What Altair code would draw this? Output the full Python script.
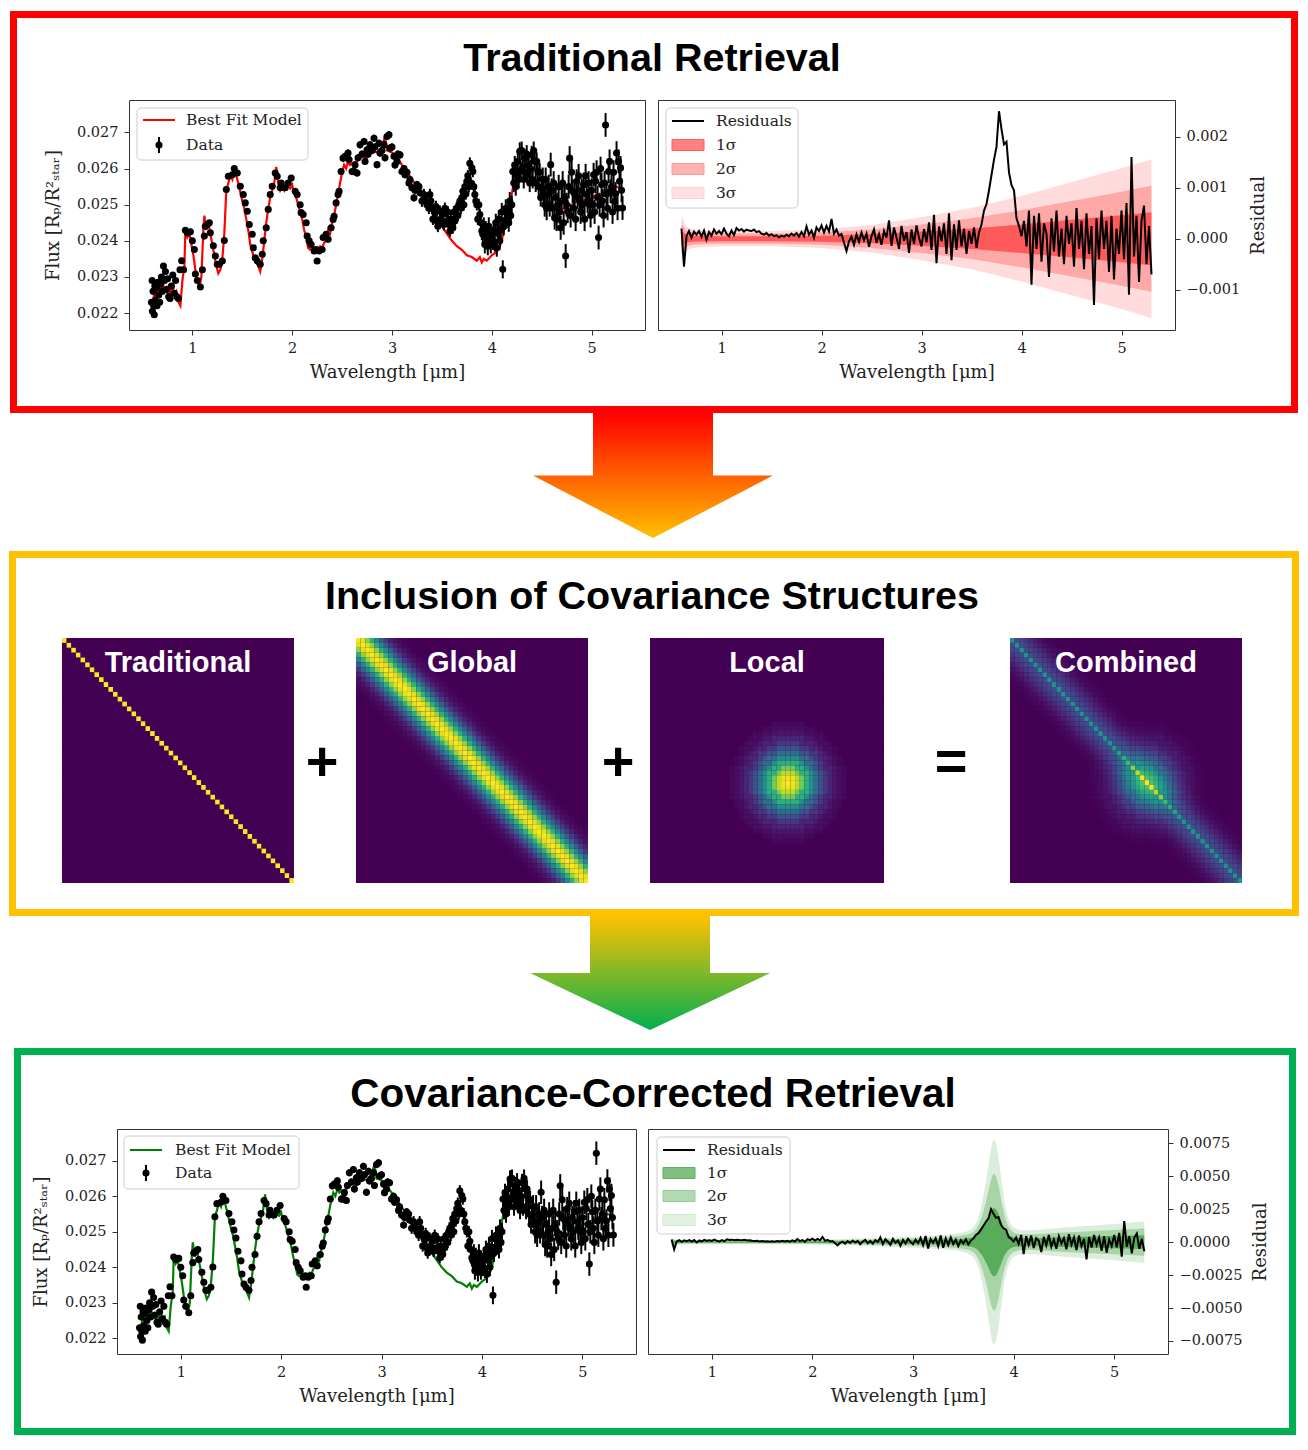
import altair as alt
import pandas as pd

# ---------------- spectrum data (flux in units of 1e-3) ----------------
spec_wl = [
    0.590, 0.597, 0.600, 0.606, 0.612, 0.618, 0.624, 0.630, 0.638, 0.646, 0.654, 0.663, 0.672, 0.681, 0.690, 0.700,
    0.710, 0.720, 0.730, 0.741, 0.752, 0.763, 0.776, 0.790, 0.804, 0.818, 0.832, 0.846, 0.860, 0.876, 0.893, 0.912,
    0.93, 0.95, 0.98, 1.00, 1.02, 1.03, 1.05, 1.08, 1.10, 1.12, 1.13, 1.15, 1.17, 1.18, 1.21, 1.23, 1.25, 1.27, 1.30, 1.32,
    1.34, 1.36, 1.40, 1.42, 1.45, 1.48, 1.51, 1.53, 1.55, 1.57, 1.60, 1.61, 1.63, 1.65, 1.68, 1.70, 1.71, 1.74, 1.76, 1.78,
    1.80, 1.83, 1.85, 1.88, 1.89, 1.93, 1.96, 1.99, 2.03, 2.05, 2.08, 2.09, 2.11, 2.14, 2.15, 2.17, 2.19, 2.22, 2.24, 2.25,
    2.27, 2.30, 2.31, 2.34, 2.36, 2.39, 2.41, 2.42, 2.44, 2.46, 2.47, 2.49, 2.51, 2.53, 2.56, 2.57, 2.60,
    2.62, 2.65, 2.68, 2.72, 2.75, 2.78, 2.82, 2.85, 2.87, 2.88, 2.92, 2.95, 2.97, 2.98, 3.02, 3.05, 3.08, 3.10, 3.13, 3.17,
    3.20, 3.22, 3.25, 3.28, 3.32, 3.35, 3.38, 3.40, 3.43, 3.45, 3.48, 3.51, 3.55, 3.58, 3.61, 3.65, 3.68, 3.71, 3.75, 3.78,
    3.80, 3.81, 3.83, 3.85, 3.88, 3.90, 3.91, 3.95, 3.98, 4.01, 4.05, 4.08, 4.11, 4.13, 4.16, 4.20, 4.21, 4.25, 4.28, 4.31,
    4.33, 4.36, 4.40, 4.43, 4.46, 4.50, 4.53, 4.56, 4.59, 4.63, 4.66, 4.69, 4.74, 4.76, 4.78, 4.81, 4.85, 4.88, 4.92, 4.95,
    4.98, 5.02, 5.04, 5.07, 5.10, 5.14, 5.17, 5.19, 5.23, 5.25, 5.28, 5.29, 5.31,
    2.63, 2.66, 2.70, 2.73, 2.76, 2.80, 2.83, 2.90, 2.93, 3.00, 3.03, 3.06, 3.12, 3.15, 3.18, 3.23, 3.27, 3.30, 3.33, 3.37,
    3.39, 3.41, 3.44, 3.46, 3.49, 3.52, 3.53, 3.56, 3.57, 3.59, 3.62, 3.63, 3.66, 3.67, 3.69, 3.70, 3.72, 3.73, 3.74, 3.76,
    3.77, 3.79, 3.82, 3.84, 3.86, 3.87, 3.89, 3.92, 3.93, 3.94, 3.96, 3.97, 3.99, 4.02, 4.03, 4.04, 4.06, 4.07, 4.09, 4.10,
    4.12, 4.14, 4.15, 4.17, 4.18, 4.19, 4.22, 4.23, 4.24, 4.26, 4.27, 4.29, 4.30, 4.32, 4.34, 4.35, 4.37, 4.38, 4.39, 4.41,
    4.42, 4.44, 4.45, 4.47, 4.48, 4.49, 4.51, 4.52, 4.54, 4.55, 4.57, 4.58, 4.60, 4.61, 4.62, 4.64, 4.65, 4.67, 4.68, 4.70,
    4.71, 4.72, 4.73, 4.75, 4.77, 4.79, 4.80, 4.82, 4.83, 4.84, 4.86, 4.87, 4.89, 4.90, 4.91, 4.93, 4.94, 4.96, 4.97, 4.99,
    5.00, 5.01, 5.03, 5.05, 5.06, 5.08, 5.09, 5.11, 5.12, 5.13, 5.15, 5.16, 5.18, 5.20, 5.21, 5.22, 5.24, 5.26, 5.27, 5.30,
]
spec_flux = [
    22.30, 22.90, 22.05, 22.60, 22.20, 21.95, 22.75, 22.35, 22.70, 22.20, 22.85, 22.50, 22.30, 22.80, 23.00, 22.60,
    23.30, 22.90, 23.15, 22.65, 22.95, 22.45, 22.40, 22.75, 23.05, 22.55, 22.90, 22.45, 22.40, 23.20, 23.45, 23.20,
    24.29, 24.22, 24.25, 24.00, 23.76, 23.08, 22.90, 22.72, 23.20, 24.13, 24.40, 24.45, 24.50, 24.22, 23.86, 23.58, 23.35, 23.35, 23.44, 24.01,
    25.42, 25.79, 25.83, 26.00, 25.88, 25.51, 25.28, 25.05, 24.82, 24.45, 24.18, 23.81, 23.53, 23.44, 23.35, 23.63, 24.00, 24.36, 24.87, 25.28,
    25.51, 25.88, 25.79, 25.47, 25.60, 25.47, 25.60, 25.74, 25.37, 25.28, 25.00, 24.78, 24.73, 24.50, 24.13, 24.00, 23.90, 23.72, 23.76, 23.44,
    23.72, 23.76, 24.09, 24.18, 24.04, 24.36, 24.59, 24.68, 25.05, 25.28, 25.37, 25.92, 26.29, 26.34, 26.43, 26.25, 25.92,
    25.92, 25.88, 26.66, 26.75, 26.52, 26.66, 26.84, 26.11, 26.70, 26.43, 26.66, 26.89, 26.94, 26.57, 26.34, 26.20, 26.38, 25.92, 25.83, 25.60,
    25.47, 25.19, 25.56, 25.33, 25.28, 25.00, 25.28, 24.91, 24.78, 24.55, 24.82, 24.73, 24.55, 24.27, 24.36, 24.91, 25.10, 25.37, 25.65, 26.15,
    26.02, 25.92, 25.28, 25.00, 24.73, 24.27, 24.18, 24.04, 24.18, 24.00, 23.81, 24.00, 23.21, 24.55, 24.82, 25.00, 25.92, 25.83, 26.48, 26.06,
    26.29, 25.83, 26.38, 26.20, 25.92, 25.47, 25.00, 25.28, 26.11, 24.64, 25.00, 24.36, 23.58, 24.82, 26.29, 25.37, 25.65, 25.10, 25.56, 25.28,
    25.00, 25.83, 25.65, 24.09, 25.56, 27.21, 25.92, 25.37, 25.10, 26.43, 25.65, 26.02, 24.91,
    26.10, 26.30, 26.40, 26.20, 26.40, 26.50, 26.60, 26.50, 26.30, 26.60, 26.10, 26.40, 26.00, 25.90, 25.70, 25.40, 25.50, 25.10, 25.20, 24.90,
    25.10, 24.60, 24.95, 24.40, 24.60, 24.45, 24.90, 24.80, 24.45, 24.60, 24.80, 24.55, 24.70, 25.00, 24.90, 25.20, 25.00, 25.50, 25.30, 25.80,
    25.50, 25.60, 25.50, 25.10, 24.60, 25.00, 24.50, 24.40, 23.90, 24.30, 23.85, 24.40, 23.90, 24.30, 23.95, 24.50, 24.20, 24.60, 24.30, 24.80,
    24.40, 24.90, 24.60, 24.50, 25.10, 24.70, 25.60, 26.10, 25.50, 26.20, 25.70, 25.95, 26.50, 25.70, 25.90, 26.40, 26.10, 25.60, 26.00, 25.70,
    26.50, 25.60, 26.20, 25.50, 25.90, 25.20, 25.70, 25.30, 25.70, 24.90, 25.50, 25.00, 25.40, 24.90, 25.60, 25.20, 24.60, 25.50, 24.80, 25.10,
    25.60, 24.50, 25.20, 25.00, 25.50, 24.70, 25.90, 24.90, 25.30, 24.60, 25.20, 25.80, 24.80, 25.40, 25.00, 24.60, 25.80, 25.10, 25.60, 24.70,
    25.40, 25.00, 24.80, 25.90, 25.20, 25.00, 26.00, 25.10, 24.70, 25.60, 25.30, 24.90, 26.20, 25.50, 24.80, 25.90, 25.30, 24.90, 26.20, 25.40,
]
# error-bar half sizes (1e-3) by wavelength region (upper edges)
err_edges = [2.5, 3.3, 3.9, 4.5, 9.9]
err_vals = [0.05, 0.10, 0.16, 0.25, 0.33]

model_wl = [
    0.60, 0.62, 0.64, 0.66, 0.68, 0.70, 0.72, 0.74, 0.76, 0.78, 0.80, 0.82, 0.84, 0.86, 0.88, 0.90, 0.92, 0.93, 0.95, 0.97,
    0.99, 1.01, 1.03, 1.05, 1.07, 1.09, 1.11, 1.12, 1.14, 1.16, 1.18, 1.20, 1.22, 1.24, 1.26, 1.28, 1.30, 1.32, 1.34, 1.36,
    1.38, 1.40, 1.42, 1.44, 1.46, 1.48, 1.50, 1.52, 1.54, 1.56, 1.58, 1.60, 1.62, 1.64, 1.66, 1.68, 1.70, 1.72, 1.74, 1.76,
    1.78, 1.80, 1.82, 1.84, 1.86, 1.88, 1.90, 1.92, 1.94, 1.96, 1.98, 2.00, 2.02, 2.04, 2.06, 2.08, 2.10, 2.12, 2.14, 2.16,
    2.18, 2.20, 2.22, 2.24, 2.26, 2.28, 2.30, 2.32, 2.34, 2.36, 2.38, 2.40, 2.42, 2.44, 2.46, 2.48, 2.50, 2.52, 2.54, 2.56,
    2.58, 2.60, 2.65, 2.70, 2.75, 2.80, 2.85, 2.90, 2.93, 2.95, 3.00, 3.05, 3.10, 3.15, 3.20, 3.25, 3.30, 3.35, 3.40, 3.45,
    3.50, 3.55, 3.60, 3.65, 3.70, 3.75, 3.80, 3.85, 3.88, 3.90, 3.92, 3.95, 4.00, 4.05, 4.08, 4.10, 4.12, 4.15, 4.18, 4.20,
    4.22, 4.25, 4.30, 4.35, 4.40, 4.45, 4.50, 4.55, 4.60, 4.65, 4.70, 4.75, 4.80, 4.85, 4.90, 4.95, 5.00, 5.05, 5.10, 5.15,
    5.20, 5.25, 5.30,
]
model_flux = [
    22.2, 22.6, 22.4, 22.8, 22.5, 22.9, 22.6, 22.7, 22.4, 22.6, 22.8, 22.5, 22.6, 22.3, 22.2, 22.9, 23.3, 24.3, 24.1, 24.2,
    23.9, 23.6, 23.2, 22.9, 22.7, 23.0, 24.3, 24.7, 24.3, 24.5, 24.2, 23.9, 23.6, 23.3, 23.1, 23.2, 23.5, 24.2, 25.4, 25.6,
    25.8, 25.7, 26.05, 25.8, 25.6, 25.35, 25.1, 24.9, 24.6, 24.3, 23.9, 23.7, 23.5, 23.4, 23.3, 23.15, 23.5, 24.0, 24.5, 24.9,
    25.2, 25.4, 25.6, 26.05, 25.6, 25.4, 25.5, 25.4, 25.6, 25.5, 25.45, 25.55, 25.3, 25.2, 25.0, 24.8, 24.6, 24.3, 24.1, 23.8,
    23.75, 23.8, 23.7, 23.75, 23.8, 23.85, 23.8, 23.95, 24.0, 24.3, 24.2, 24.5, 24.7, 25.0, 25.3, 25.6, 25.9, 26.1, 26.0, 26.2,
    26.1, 26.15, 26.2, 26.35, 26.3, 26.5, 26.45, 26.6, 26.9, 26.5, 26.45, 26.3, 26.1, 25.9, 25.7, 25.5, 25.2, 25.0, 24.8, 24.55,
    24.4, 24.2, 24.0, 23.85, 23.75, 23.6, 23.55, 23.45, 23.55, 23.4, 23.5, 23.45, 23.6, 23.7, 23.85, 24.0, 24.3, 24.6, 24.9, 25.3,
    25.6, 25.75, 25.7, 25.85, 25.7, 25.6, 25.4, 25.1, 24.95, 25.0, 24.85, 25.0, 24.95, 25.1, 25.05, 25.2, 25.15, 25.3, 25.2, 25.4,
    25.35, 25.5, 25.45,
]

# ---------------- residuals (units of 1e-4) ----------------
res_wl = [
    0.600, 0.625, 0.650, 0.675, 0.700, 0.725, 0.750, 0.775,
    0.800, 0.825, 0.850, 0.875, 0.900, 0.925, 0.950, 0.975,
    1.000, 1.025, 1.050, 1.075, 1.100, 1.125, 1.150, 1.175,
    1.200, 1.225, 1.250, 1.275, 1.300, 1.325, 1.350, 1.375,
    1.400, 1.425, 1.450, 1.475, 1.500, 1.525, 1.550, 1.575,
    1.600, 1.625, 1.650, 1.675, 1.700, 1.725, 1.750, 1.775,
    1.800, 1.825, 1.850, 1.875, 1.900, 1.925, 1.950, 1.975,
    2.000, 2.025, 2.050, 2.075, 2.100, 2.125, 2.150, 2.175,
    2.200, 2.225, 2.250, 2.275, 2.300, 2.325, 2.350, 2.375,
    2.400, 2.425, 2.450, 2.475, 2.500, 2.525, 2.550, 2.575,
    2.600, 2.625, 2.650, 2.675, 2.700, 2.725, 2.750, 2.775,
    2.800, 2.825, 2.850, 2.875, 2.900, 2.925, 2.950, 2.975,
    3.000, 3.025, 3.050, 3.075, 3.100, 3.125, 3.150, 3.175,
    3.200, 3.225, 3.250, 3.275, 3.300, 3.325, 3.350, 3.375,
    3.400, 3.425, 3.450, 3.475, 3.500, 3.525, 3.550, 3.575,
    3.600, 3.625, 3.650, 3.675, 3.700, 3.725, 3.750, 3.775,
    3.800, 3.825, 3.850, 3.875, 3.900, 3.925, 3.950, 3.975,
    4.000, 4.025, 4.050, 4.075, 4.100, 4.125, 4.150, 4.175,
    4.200, 4.225, 4.250, 4.275, 4.300, 4.325, 4.350, 4.375,
    4.400, 4.425, 4.450, 4.475, 4.500, 4.525, 4.550, 4.575,
    4.600, 4.625, 4.650, 4.675, 4.700, 4.725, 4.750, 4.775,
    4.800, 4.825, 4.850, 4.875, 4.900, 4.925, 4.950, 4.975,
    5.000, 5.025, 5.050, 5.075, 5.100, 5.125, 5.150, 5.175,
    5.200, 5.225, 5.250, 5.275, 5.300,
]
res_val = [
    2.0, -5.5, 0.5, 1.5, 0.2, 1.4, 0.8, 1.5,
    0.4, 1.6, -0.2, 1.3, 0.6, 1.8, 1.0, 1.5,
    0.9, 2.0, 1.0, 0.5, 1.6, 0.7, 2.1, 1.6,
    1.9, 1.4, 1.8, 1.6, 1.5, 1.8, 1.3, 1.5,
    1.0, 0.8, 1.1, 0.6, 0.9, 0.5, 0.7, 0.3,
    0.6, 0.4, 0.8, 0.5, 1.0, 0.6, 1.1, 0.4,
    1.3, 0.5, 2.4, 0.8, 1.6, 0.2, 2.2, 1.5,
    2.6, 1.2, 2.5, 1.4, 3.9, 1.0, 1.8, 0.6,
    0.9, -0.8, -2.4, -0.5, 0.4, -1.2, 0.8, -0.6,
    1.2, -0.3, 1.0, -1.6, 0.5, 1.8, -0.8, 0.9,
    -1.2, 1.5, 0.2, 3.6, -1.4, 2.2, 0.3, -2.0,
    2.5, -0.4, 1.3, -2.8, 1.8, -1.0, 2.6, 0.2,
    -1.5, 1.9, -0.7, 3.2, -2.2, 4.7, -4.8, 2.4,
    -0.5, 3.0, -3.0, 5.0, -4.2, 2.8, -2.2, 3.6,
    -1.5, 2.0, -3.0, 1.5, -1.0, 2.2, -1.8, 1.2,
    2.8, 5.5, 6.8, 9.5, 12.5, 15.5, 18.0, 25.0,
    21.5, 18.5, 19.0, 13.0, 10.5, 9.5, 4.0, 2.5,
    0.5, 3.5, -1.5, 5.5, -9.0, 4.5, -2.0, 5.0,
    -4.5, 3.0, 1.0, -7.5, 4.0, -2.5, 5.5, -3.5,
    2.0, -5.0, 4.5, -1.0, 3.0, -5.5, 6.0, -2.0,
    3.5, -6.0, 5.0, -3.0, 2.5, -13.0, 4.0, -4.0,
    5.5, -2.0, 3.5, -6.5, 4.5, -8.0, 2.0, -3.0,
    5.5, -4.0, 7.0, -11.0, 16.0, -3.5, 4.5, -8.5,
    3.5, 6.5, -5.0, 2.5, -7.0,
]

# 1-sigma envelopes (units of 1e-4)
sig_top_wl = [0.60, 0.62, 0.64, 0.67, 0.72, 0.80, 1.00, 1.50, 2.00, 2.50, 3.00, 3.50, 4.00, 4.50, 5.00, 5.30]
sig_top = [1.5, 1.2, 0.9, 0.7, 0.6, 0.55, 0.5, 0.5, 0.6, 0.9, 1.4, 2.0, 2.8, 3.7, 4.6, 5.2]
sig_bot_wl = [0.60, 0.62, 0.65, 0.70, 0.80, 1.00, 1.50, 2.00, 2.50, 3.00, 3.30, 3.45, 3.55, 3.60, 3.63, 3.66, 3.69,
              3.72, 3.75, 3.77, 3.79, 3.81, 3.83, 3.85, 3.87, 3.89, 3.91, 3.94, 3.97, 4.00, 4.05, 4.10, 4.20, 4.50,
              5.00, 5.30]
sig_bot = [1.2, 0.9, 0.7, 0.6, 0.55, 0.5, 0.5, 0.6, 0.9, 1.4, 1.8, 2.2, 2.9, 3.8, 5.0, 7.2, 10.5,
           14.5, 19.5, 23.0, 25.5, 26.0, 24.5, 21.5, 17.5, 13.5, 10.0, 6.5, 4.6, 3.7, 3.1, 3.0, 3.0, 3.7,
           4.6, 5.2]

# ---------------- covariance matrices ----------------
n_cells = 50
trad_profile = [1.0]
global_profile = [1.0, 0.95, 0.82, 0.64, 0.46, 0.30, 0.17, 0.09, 0.045, 0.02, 0.008]
local_profile = [1.0, 0.972, 0.893, 0.775, 0.636, 0.493, 0.361, 0.25, 0.163, 0.10, 0.059, 0.032, 0.017]
local_center = 29
combined_weights = [0.5, 0.5, 1.0]

SERIF = "DejaVu Serif"
SANS = "Liberation Sans"
TXT = "#222222"
one = pd.DataFrame({"k": [0]})


def err_for(w):
    for edge, val in zip(err_edges, err_vals):
        if w < edge:
            return val
    return err_vals[-1]


spec_df = pd.DataFrame(
    [{"wl": w, "flux": f * 1e-3, "lo": (f - err_for(w)) * 1e-3, "hi": (f + err_for(w)) * 1e-3}
     for w, f in zip(spec_wl, spec_flux)]
)
model_df = pd.DataFrame([{"wl": w, "flux": f * 1e-3} for w, f in zip(model_wl, model_flux)])
res_df = pd.DataFrame([{"wl": w, "res": r * 1e-4} for w, r in zip(res_wl, res_val)])


def sig_frame(wls, sigs):
    rows = []
    for w, s in zip(wls, sigs):
        s = s * 1e-4
        rows.append({"wl": w, "lo1": -s, "hi1": s, "lo2": -2 * s, "hi2": 2 * s, "lo3": -3 * s, "hi3": 3 * s})
    return pd.DataFrame(rows)


def matrix(kind):
    rows = []
    for r in range(n_cells):
        for c in range(n_cells):
            d = abs(r - c)
            t = trad_profile[d] if d < len(trad_profile) else 0.0
            g = global_profile[d] if d < len(global_profile) else 0.0
            rd = int(round(((r - local_center) ** 2 + (c - local_center) ** 2) ** 0.5))
            l = local_profile[rd] if rd < len(local_profile) else 0.0
            if kind == "T":
                v = t
            elif kind == "G":
                v = g
            elif kind == "L":
                v = l
            else:
                v = (combined_weights[0] * t + combined_weights[1] * g + combined_weights[2] * l) / sum(combined_weights)
            rows.append((r, c, v))
    return pd.DataFrame(rows, columns=["r", "c", "v"])


def text_mark(t, x, y, size, color=TXT, font=SERIF, weight="normal", align="left"):
    return alt.Chart(one).mark_text(
        text=t, font=font, fontSize=size, fontWeight=weight, color=color, align=align, baseline="middle"
    ).encode(x=alt.value(x), y=alt.value(y))


def spacer(w, h=1):
    return alt.Chart(one).mark_rect(opacity=0).encode(
        x=alt.value(0), x2=alt.value(w), y=alt.value(0), y2=alt.value(h)
    ).properties(width=w, height=h)


def legend_box(x0, y0, x1, y1):
    return alt.Chart(one).mark_rect(
        fill="white", fillOpacity=0.85, stroke="#cccccc", strokeWidth=1, cornerRadius=4
    ).encode(x=alt.value(x0), x2=alt.value(x1), y=alt.value(y0), y2=alt.value(y1))


X_DOM = [0.365, 5.535]


def spectrum_panel(color, width, height, ydom, box, line_y, data_y, text_x):
    xsc = alt.Scale(domain=X_DOM, nice=False, zero=False)
    ysc = alt.Scale(domain=ydom, nice=False, zero=False)
    xax = alt.Axis(values=[1, 2, 3, 4, 5], format="d", title="Wavelength [μm]", titlePadding=9)
    yax = alt.Axis(values=[0.022, 0.023, 0.024, 0.025, 0.026, 0.027], format=".3f",
                   title="Flux [Rₚ/R²ₛₜₐᵣ]", titlePadding=14)

    def X(f):
        return alt.X(f, type="quantitative", scale=xsc, axis=xax)

    def Y(f):
        return alt.Y(f, type="quantitative", scale=ysc, axis=yax)

    line = alt.Chart(model_df).mark_line(color=color, strokeWidth=2.2).encode(x=X("wl"), y=Y("flux"))
    err = alt.Chart(spec_df).mark_rule(color="black", strokeWidth=2).encode(x=X("wl"), y=Y("lo"), y2="hi")
    pts = alt.Chart(spec_df).mark_circle(color="black", size=50, opacity=1).encode(x=X("wl"), y=Y("flux"))
    bx0 = box[0]
    leg = [
        legend_box(*box),
        alt.Chart(one).mark_rule(color=color, strokeWidth=2).encode(
            x=alt.value(bx0 + 6), x2=alt.value(bx0 + 38), y=alt.value(line_y)),
        alt.Chart(one).mark_rule(color="black", strokeWidth=2).encode(
            x=alt.value(bx0 + 22), y=alt.value(data_y - 8), y2=alt.value(data_y + 8)),
        alt.Chart(one).mark_circle(color="black", size=50, opacity=1).encode(
            x=alt.value(bx0 + 22), y=alt.value(data_y)),
        text_mark("Best Fit Model", text_x, line_y, 15.5),
        text_mark("Data", text_x, data_y, 15.5),
    ]
    # invisible anchor fixing the panel's left overhang at exactly 100 px
    anchor = alt.Chart(one).mark_rect(opacity=0).encode(
        x=alt.value(-100), x2=alt.value(-99), y=alt.value(0), y2=alt.value(1))
    return alt.layer(line, err, pts, *leg, anchor).properties(
        width=width, height=height, view=alt.ViewBackground(stroke="#333333", strokeWidth=1))


def residual_panel(color, patch_cols, width, height, ydom, yvals, yfmt, sig_df, box, rows_y, text_x):
    xsc = alt.Scale(domain=X_DOM, nice=False, zero=False)
    ysc = alt.Scale(domain=ydom, nice=False, zero=False)
    xax = alt.Axis(values=[1, 2, 3, 4, 5], format="d", title="Wavelength [μm]", titlePadding=9)
    yax = alt.Axis(orient="right", values=yvals, format=yfmt, title="Residual",
                   titleAngle=270, titleBaseline="top", titlePadding=10)

    def X(f):
        return alt.X(f, type="quantitative", scale=xsc, axis=xax)

    def Y(f):
        return alt.Y(f, type="quantitative", scale=ysc, axis=yax)

    b3 = alt.Chart(sig_df).mark_area(color=color, opacity=0.14).encode(x=X("wl"), y=Y("lo3"), y2="hi3")
    b2 = alt.Chart(sig_df).mark_area(color=color, opacity=0.23).encode(x=X("wl"), y=Y("lo2"), y2="hi2")
    b1 = alt.Chart(sig_df).mark_area(color=color, opacity=0.47).encode(x=X("wl"), y=Y("lo1"), y2="hi1")
    ln = alt.Chart(res_df).mark_line(color="black", strokeWidth=2).encode(x=X("wl"), y=Y("res"))
    bx0 = box[0]
    leg = [
        legend_box(*box),
        alt.Chart(one).mark_rule(color="black", strokeWidth=2).encode(
            x=alt.value(bx0 + 6), x2=alt.value(bx0 + 38), y=alt.value(rows_y[0])),
        text_mark("Residuals", text_x, rows_y[0], 15.5),
    ]
    for i, (lab, (fc, sc)) in enumerate(zip(["1σ", "2σ", "3σ"], patch_cols)):
        yy = rows_y[i + 1]
        leg.append(alt.Chart(one).mark_rect(fill=fc, stroke=sc, strokeWidth=1).encode(
            x=alt.value(bx0 + 6), x2=alt.value(bx0 + 38), y=alt.value(yy - 5.5), y2=alt.value(yy + 5.5)))
        leg.append(text_mark(lab, text_x, yy, 15.5))
    return alt.layer(b3, b2, b1, ln, *leg).properties(
        width=width, height=height, view=alt.ViewBackground(stroke="#333333", strokeWidth=1))


def heatmap(kind, title, w, h):
    df = matrix(kind)
    base = alt.Chart(df).mark_rect().encode(
        x=alt.X("c:O", axis=None, scale=alt.Scale(paddingInner=0, paddingOuter=0)),
        y=alt.Y("r:O", axis=None, scale=alt.Scale(paddingInner=0, paddingOuter=0)),
        color=alt.Color("v:Q", scale=alt.Scale(scheme="viridis", domain=[0, 1]), legend=None),
    )
    txt = text_mark(title, w / 2, 25, 29, color="white", font=SANS, weight="bold", align="center")
    return alt.layer(base, txt).properties(width=w, height=h, view=alt.ViewBackground(fill="#440154"))


def frame(x0, x1, y0, y1, color, texts, height):
    # height = offset from the section origin to the top of the panels below
    sw = 7
    layers = [alt.Chart(one).mark_rect(stroke=color, strokeWidth=sw, fillOpacity=0).encode(
        x=alt.value(x0 + sw / 2), x2=alt.value(x1 - sw / 2), y=alt.value(y0 + sw / 2), y2=alt.value(y1 - sw / 2))]
    for (t, tx, ty, fs) in texts:
        layers.append(text_mark(t, tx, ty, fs, color="black", font=SANS, weight="bold", align="center"))
    return alt.layer(*layers).properties(width=1, height=height)


def arrow(cx, cy, hh, c_top, c_bot, height):
    path = f"M-0.5,{-hh} L0.5,{-hh} L0.5,0 L1,0 L0,{hh} L-1,0 L-0.5,0 Z"
    grad = alt.LinearGradient(
        gradient="linear",
        stops=[alt.GradientStop(color=c_top, offset=0), alt.GradientStop(color=c_bot, offset=1)],
        x1=0, x2=0, y1=0, y2=1)
    return alt.Chart(one).mark_point(
        shape=path, size=57600, filled=True, color=grad, fill=grad, opacity=1, strokeWidth=0
    ).encode(x=alt.value(cx), y=alt.value(cy)).properties(width=1, height=height)


RED, ORANGE, GREEN = "#ff0000", "#ffc000", "#00b050"

# ---- section 1 ----
left1 = spectrum_panel("red", 516, 230, [0.02153, 0.0279], (8, 8, 179, 60), 20, 45, 57)
right1 = residual_panel(
    "red", [("#ff8080", "#ff5c5c"), ("#ffb3b3", "#ff9a9a"), ("#ffe1e1", "#ffd0d0")],
    517, 230, [-0.00179, 0.00272], [-0.001, 0.0, 0.001, 0.002], ".3f",
    sig_frame(sig_top_wl, sig_top), (8, 8, 140, 108), [21, 45, 69, 93], 58)
sec1 = alt.vconcat(
    frame(10, 1298, 11, 413, RED, [("Traditional Retrieval", 652, 59, 39.5)], 100),
    alt.hconcat(spacer(17), left1, right1, spacing=11),
    spacing=0,
    bounds="flush",
)

# ---- section 2 ----
hm_row = alt.hconcat(
    spacer(1),
    alt.hconcat(heatmap("T", "Traditional", 232, 245), heatmap("G", "Global", 232, 245),
                heatmap("L", "Local", 234, 245), spacing=62),
    spacer(4),
    heatmap("C", "Combined", 232, 245),
    spacing=61,
)
sec2 = alt.vconcat(
    frame(9, 1299, 0, 365, ORANGE, [("Inclusion of Covariance Structures", 652, 46, 39.5),
                                    ("+", 322, 212, 56), ("+", 618, 212, 56), ("=", 951, 212, 56)], 87),
    hm_row,
    spacing=0,
    bounds="flush",
)

# ---- section 3 ----
left3 = spectrum_panel("green", 519, 225, [0.02156, 0.02789], (7, 7, 182, 60), 21, 44, 58)
right3 = residual_panel(
    "green", [("#7fbf7f", "#5fae5f"), ("#b3d9b3", "#9acd9a"), ("#e1f0e1", "#d0e8d0")],
    520, 225, [-0.00849, 0.00859], [-0.0075, -0.005, -0.0025, 0.0, 0.0025, 0.005, 0.0075], ".4f",
    sig_frame(sig_bot_wl, sig_bot), (9, 8, 142, 105), [21, 44, 67, 91], 59)
sec3 = alt.vconcat(
    frame(14, 1296, 0, 387, GREEN, [("Covariance-Corrected Retrieval", 653, 47, 40.5)], 81),
    alt.hconcat(spacer(6), left3, right3, spacing=10),
    spacing=0,
    bounds="flush",
)

chart = alt.vconcat(
    sec1,
    arrow(653, 62.6, 0.521, RED, ORANGE, 138),
    sec2,
    arrow(650, 57.1, 0.475, ORANGE, GREEN, 132),
    sec3,
    spacing=0,
).properties(padding=0, background="white").configure_view(strokeWidth=0).configure_axis(
    labelFont=SERIF, labelFontSize=14.5, labelColor=TXT, titleFont=SERIF, titleFontSize=18,
    titleFontWeight="normal", titleColor=TXT, tickColor="#333333", tickSize=5, tickWidth=1,
    labelPadding=6, domain=False, grid=False,
)

chart.save("out.html", embed_options={"renderer": "svg", "actions": False})
